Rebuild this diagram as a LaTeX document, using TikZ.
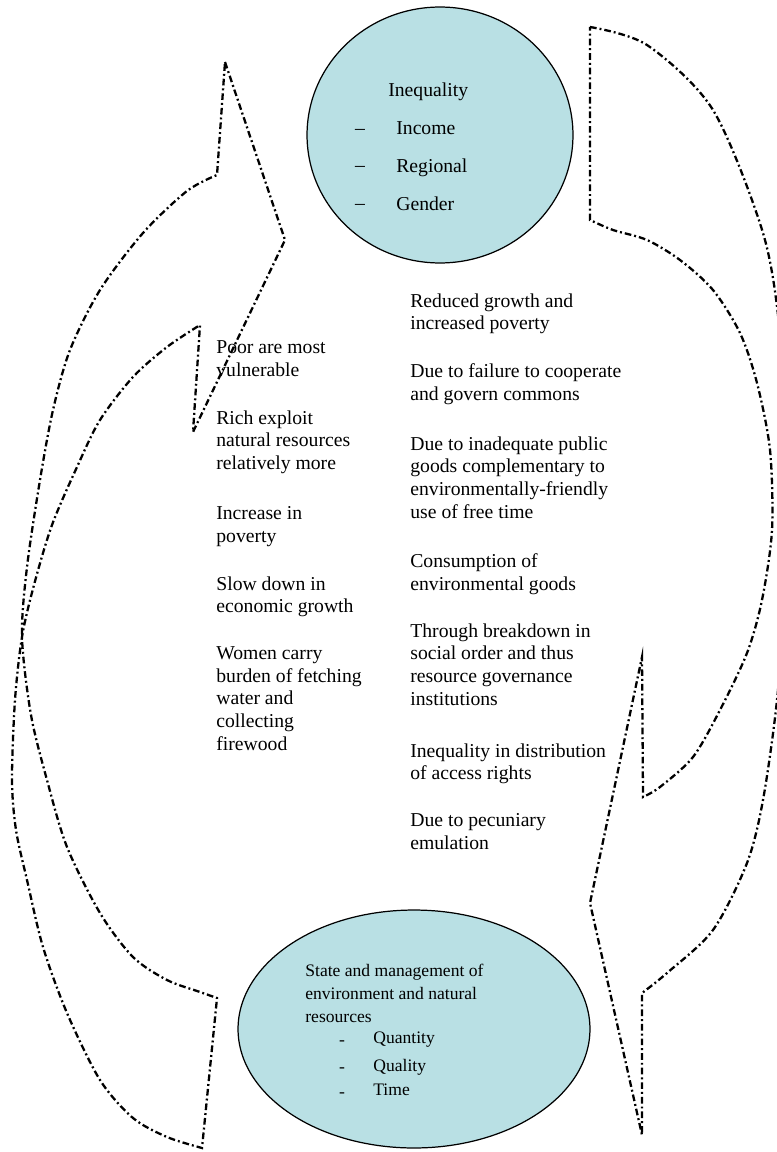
\documentclass[tikz,border=0pt]{standalone}
\usepackage{fontspec}
\setmainfont{Liberation Serif}
\usepackage{tikz}
\usetikzlibrary{shapes.geometric}
\definecolor{pool}{RGB}{185,224,228}

\begin{document}
\begin{tikzpicture}[x=0.02cm, y=-0.02cm]
\useasboundingbox (0,0) rectangle (777,1152);
\tikzstyle{ribbon} = [line width=1.3pt, dash pattern=on 3.8pt off 1.7pt on 1.1pt off 1.7pt]
\tikzstyle{bubble} = [ellipse, draw=black, line width=0.7pt, fill=pool, anchor=center]
\tikzstyle{every node} = [inner sep=0cm, align=left, anchor=north west, font=\fontsize{11.2}{13}\selectfont]
\draw[ribbon] (225,62) -- (285,240) -- (193,432) -- (200,325)
	-- plot[smooth] coordinates {(200,325) (167,347) (133,377) (100,420) (77,467) (52,525) (34,585) (22,637) (15,700) (12,780) (16,830) (27,880) (43,947) (67,1013) (100,1080) (133,1118) (167,1137) (202,1148)}
	-- (217,998)
	-- plot[smooth] coordinates {(217,998) (200,992) (167,980) (133,957) (100,913) (67,847) (47,780) (31,715) (22,637) (27,567) (40,480) (53,410) (70,350) (100,290) (143,233) (187,191) (217,175)}
	-- cycle;
\draw[ribbon] (590,27)
	-- plot[smooth] coordinates {(590,27) (647,45) (713,110) (763,233) (780,333) (786,450) (786,580) (777,700) (763,800) (747,863) (713,930) (667,973) (642,993)}
	-- (642,1135) -- (590,903) -- (642,657) -- (643,797)
	-- plot[smooth] coordinates {(643,797) (660,787) (693,757) (720,710) (747,653) (762,600) (772,530) (770,450) (757,383) (740,333) (713,290) (680,260) (647,240) (613,230) (590,220)}
	-- cycle;
\node[bubble, minimum width=5.32cm, minimum height=5.12cm] (ineq) at (440,135) {};
\node[bubble, minimum width=7.04cm, minimum height=4.76cm] (env) at (414,1029) {};
\node (ineqt) at (388,82) {Inequality};
\node[anchor=base] (d1) at (360,135) {\textendash};
\node (inc) at (396,121) {Income};
\node[anchor=base] (d2) at (360,172) {\textendash};
\node (reg) at (396,158) {Regional};
\node[anchor=base] (d3) at (360,210) {\textendash};
\node (gen) at (396,196) {Gender};
\node (poor) at (216,340) {Poor are most\\ vulnerable};
\node (rich) at (216,410) {Rich exploit\\ natural resources\\ relatively more};
\node (incp) at (216,506) {Increase in\\ poverty};
\node (slow) at (216,576) {Slow down in\\ economic growth};
\node (women) at (216,646) {Women carry\\ burden of fetching\\ water and\\ collecting\\ firewood};
\node (redg) at (410,293) {Reduced growth and\\ increased poverty};
\node (fail) at (410,363) {Due to failure to cooperate\\ and govern commons};
\node (inadq) at (410,436) {Due to inadequate public\\ goods complementary to\\ environmentally-friendly\\ use of free time};
\node (cons) at (410,553) {Consumption of\\ environmental goods};
\node (brk) at (410,623) {Through breakdown in\\ social order and thus\\ resource governance\\ institutions};
\node (acc) at (410,743) {Inequality in distribution\\ of access rights};
\node (pec) at (410,813) {Due to pecuniary\\ emulation};
\node[font=\fontsize{10}{13}\selectfont] (state) at (305,964) {State and management of\\ environment and natural\\ resources};
\node[anchor=base, font=\fontsize{10}{13}\selectfont] (b1) at (342,1045) {-};
\node[font=\fontsize{10}{13}\selectfont] (qty) at (373,1032) {Quantity};
\node[anchor=base, font=\fontsize{10}{13}\selectfont] (b2) at (342,1072) {-};
\node[font=\fontsize{10}{13}\selectfont] (qly) at (373,1059) {Quality};
\node[anchor=base, font=\fontsize{10}{13}\selectfont] (b3) at (342,1097) {-};
\node[font=\fontsize{10}{13}\selectfont] (tim) at (373,1084) {Time};
\end{tikzpicture}
\end{document}
